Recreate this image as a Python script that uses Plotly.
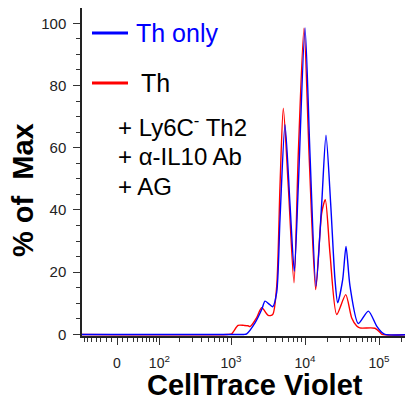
import numpy as np
import plotly.graph_objects as go

# ---- data (CellTrace Violet intensity, % of max) ----
blue_x = [-80, 1000, 1500, 1630, 2111, 2598, 2880, 3192, 3660, 4145, 4594, 5364,
          6267, 7168, 8116, 10007, 11679, 14077, 16808, 19213, 22234, 25430, 27650,
          32300, 35830, 40580, 52530, 71680, 93000, 108700, 120500, 300000]
blue_y = [0, 0, 0, 0.2, 3.7, 8, 10.7, 10, 8.9, 13.5, 37, 67.4,
          42, 20.3, 47.6, 98.5, 58, 15.5, 42, 64, 42, 17.6, 10.2,
          17.6, 28.3, 15.5, 3.5, 7.5, 2.7, 0.7, 0, 0]

red_x = [-80, 900, 1022, 1244, 1500, 1697, 1806, 2224, 2598, 3192, 3660, 4145, 4594,
         5090, 5947, 7100, 8116, 9691, 11435, 13946, 16808, 18810, 21764, 26810,
         35500, 42800, 49970, 55000, 88200, 103100, 110000, 300000]
red_y = [0, 0, 0.2, 2.9, 2.9, 2.8, 2.5, 5.4, 8.6, 6.1, 6.4, 15.5, 47.6,
         72.7, 47.6, 16.6, 58, 98.4, 56, 14.4, 39, 43.3, 26, 6.4,
         12.8, 5.3, 2.7, 2.1, 2.0, 0.7, 0, 0]

major_vals = [0, 100, 1000, 10000, 100000]
major_text = ["0", "10<sup>2</sup>", "10<sup>3</sup>", "10<sup>4</sup>", "10<sup>5</sup>"]
minor_vals = ([-v for v in range(10, 100, 10)] + list(range(10, 100, 10)) +
              list(range(200, 1000, 100)) + list(range(2000, 10000, 1000)) +
              list(range(20000, 100000, 10000)) + list(range(200000, 1000000, 100000)))

legend_items = ["Th only", "Th"]
legend_colors = ["blue", "red"]
extra_lines = ["+ Ly6C<sup>-</sup> Th2", "+ \u03b1-IL10 Ab", "+ AG"]

A = 57.6
def biex(v):
    return np.arcsinh(np.asarray(v, float) / A) / np.log(10)

W, H = 405, 407
L, R, T, B = 82, 0, 8, 71
pw, ph = W - L - R, H - T - B
def px(x):
    return (x - L) / pw
def py(y):
    return (H - B - y) / ph

FONT = "Liberation Sans, Arial, sans-serif"

fig = go.Figure()
fig.add_trace(go.Scatter(x=biex(red_x), y=red_y, mode="lines",
                         line=dict(color="red", width=1.4, shape="spline", smoothing=0.7),
                         showlegend=False, hoverinfo="skip"))
fig.add_trace(go.Scatter(x=biex(blue_x), y=blue_y, mode="lines",
                         line=dict(color="blue", width=1.4, shape="spline", smoothing=0.7),
                         showlegend=False, hoverinfo="skip"))

fig.update_layout(
    width=W, height=H, margin=dict(l=L, r=R, t=T, b=B),
    paper_bgcolor="white", plot_bgcolor="white",
    font=dict(family=FONT, color="#222"),
    xaxis=dict(range=[-0.473, 3.892], showgrid=False, zeroline=False,
               showline=True, linecolor="#222", linewidth=1.5,
               ticks="outside", ticklen=7, tickwidth=1.3, tickcolor="#333",
               tickmode="array", tickvals=biex(major_vals).tolist(), ticktext=major_text,
               tickfont=dict(size=14, family=FONT, color="#222"), ticklabelstandoff=6,
               minor=dict(tickmode="array", tickvals=biex(minor_vals).tolist(),
                          ticks="outside", ticklen=4, tickwidth=1, tickcolor="#333")),
    yaxis=dict(range=[-0.5, 104.9], showgrid=False, zeroline=False,
               showline=True, linecolor="#222", linewidth=1.5,
               ticks="outside", ticklen=7, tickwidth=1.3, tickcolor="#333",
               tickvals=[0, 20, 40, 60, 80, 100],
               tickfont=dict(size=15, family=FONT, color="#222"), ticklabelstandoff=4,
               minor=dict(dtick=5, ticks="outside", ticklen=4, tickwidth=1, tickcolor="#333")),
)

# axis titles
fig.add_annotation(text="% of\u00a0 Max", x=px(23), y=py(190), xref="paper", yref="paper",
                   textangle=-90, showarrow=False, xanchor="center", yanchor="middle",
                   font=dict(family=FONT, size=29, color="black", weight="bold"))
fig.add_annotation(text="CellTrace Violet", x=px(255), y=py(385), xref="paper", yref="paper",
                   showarrow=False, xanchor="center", yanchor="middle",
                   font=dict(family=FONT, size=29, color="black", weight="bold"))

# legend
leg_y = [33, 83]
text_x = [134, 139]
text_col = ["blue", "black"]
for name, col, yy, tx, tc in zip(legend_items, legend_colors, leg_y, text_x, text_col):
    fig.add_shape(type="line", xref="paper", yref="paper", x0=px(92), x1=px(128),
                  y0=py(yy), y1=py(yy), line=dict(color=col, width=3))
    fig.add_annotation(text=name, x=px(tx), y=py(yy), xref="paper", yref="paper",
                       showarrow=False, xanchor="left", yanchor="middle",
                       font=dict(family=FONT, size=25, color=tc))
for txt, yy in zip(extra_lines, [126, 156, 186]):
    fig.add_annotation(text=txt, x=px(116), y=py(yy), xref="paper", yref="paper",
                       showarrow=False, xanchor="left", yanchor="middle",
                       font=dict(family=FONT, size=24, color="black"))

fig.write_html("out.html")
